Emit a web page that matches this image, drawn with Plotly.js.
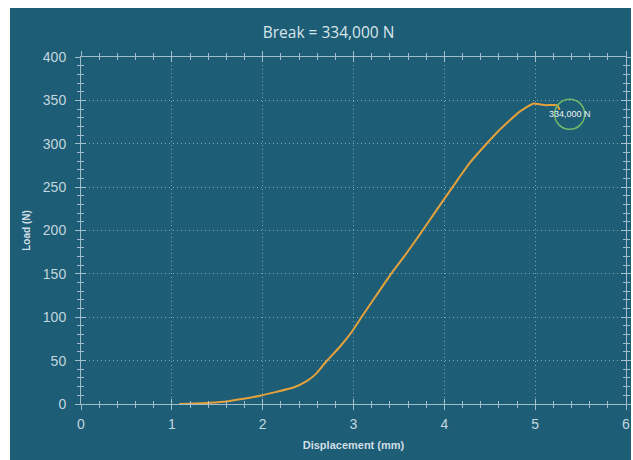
<!DOCTYPE html>
<html>
<head>
<meta charset="utf-8">
<script src="https://cdn.plot.ly/plotly-3.0.1.min.js"></script>
<style>
html,body{margin:0;padding:0;background:#ffffff;width:633px;height:460px;overflow:hidden;}
#chart{position:absolute;left:10px;top:8px;width:621px;height:452px;}
</style>
</head>
<body>
<div id="chart"></div>
<script>
// Displacement (mm) and Load (N)
const displacement = [1.08, 1.25, 1.42, 1.60, 1.79, 1.97, 2.15, 2.34, 2.48, 2.59, 2.70, 2.85, 2.98, 3.10, 3.25, 3.40, 3.55, 3.66, 3.80, 3.99, 4.15, 4.28, 4.43, 4.58, 4.70, 4.83, 4.92, 4.98, 5.05, 5.12, 5.24, 5.27];
const load = [0, 0.5, 1.5, 3, 6, 9.6, 14, 19, 26, 35, 49, 66, 83, 102, 125, 148, 169, 185, 206, 235, 259, 278, 296, 313, 325, 337, 343, 346.5, 345.5, 344.5, 344.5, 339];
// Break marker
const breakX = [5.38];
const breakY = [334];
const breakLabel = ["334,000 N"];
const titleText = "Break = 334,000 N";
const xTitle = "Displacement (mm)";
const yTitle = "Load (N)";
const xRange = [0, 6];
const yRange = [0, 400];

const bg = "#1d5d75";
const fg = "#c3d6df";
const lineC = "rgba(205,222,230,0.75)";
const gridC = "rgba(205,222,230,0.55)";

const traces = [
  {x: displacement, y: load, type: "scatter", mode: "lines",
   line: {color: "#e5a13c", width: 2, shape: "spline", smoothing: 0.5}, hoverinfo: "skip", showlegend: false},
  {x: breakX, y: breakY, type: "scatter", mode: "markers+text",
   text: breakLabel, textposition: "middle center",
   textfont: {family: "Liberation Sans, Arial, sans-serif", size: 9, color: "#eef4f7"},
   marker: {symbol: "circle-open", size: 30, color: "#72b86a", line: {color: "#72b86a", width: 1.5}},
   showlegend: false, hoverinfo: "skip"}
];

const tickFont = {family: "Liberation Sans, Arial, sans-serif", size: 14, color: fg};
const layout = {
  width: 621, height: 452,
  paper_bgcolor: bg, plot_bgcolor: bg,
  margin: {l: 71, r: 5, t: 49, b: 56},
  showlegend: false,
  title: {text: titleText, x: 0.513, xref: "container", y: 0.945, yanchor: "middle",
          font: {family: "Open Sans, Noto Sans, sans-serif", size: 15.5, color: "#d8e5eb"}},
  xaxis: {range: xRange, dtick: 1, tick0: 0, showline: true, linecolor: lineC, linewidth: 1,
          mirror: "ticks", ticks: "outside", ticklen: 5, tickcolor: lineC,
          showgrid: true, gridcolor: gridC, griddash: "1px,3px", zeroline: false,
          minor: {dtick: 0.2, ticks: "outside", ticklen: 3, tickcolor: lineC, showgrid: false},
          tickfont: tickFont, ticklabelstandoff: 2,
          title: {text: xTitle, standoff: 10,
                  font: {family: "Liberation Sans, Arial, sans-serif", size: 11, color: "#d0dfe6", weight: "bold"}}},
  xaxis2: {overlaying: "x", anchor: "y", side: "bottom", range: xRange, dtick: 1, tick0: 0,
          showline: false, mirror: "ticks", ticks: "inside", ticklen: 5, tickcolor: lineC,
          showticklabels: false, showgrid: false, zeroline: false,
          minor: {dtick: 0.2, ticks: "inside", ticklen: 3, tickcolor: lineC, showgrid: false}},
  yaxis: {range: yRange, dtick: 50, tick0: 0, showline: true, linecolor: lineC, linewidth: 1,
          mirror: "ticks", ticks: "outside", ticklen: 5, tickcolor: lineC,
          showgrid: true, gridcolor: gridC, griddash: "1px,3px", zeroline: false,
          minor: {dtick: 10, ticks: "outside", ticklen: 3, tickcolor: lineC, showgrid: false},
          tickfont: tickFont, ticklabelstandoff: 6,
          title: {text: yTitle, standoff: 10,
                  font: {family: "Liberation Sans, Arial, sans-serif", size: 10, color: "#d0dfe6", weight: "bold"}}},
  yaxis2: {overlaying: "y", anchor: "x", side: "left", range: yRange, dtick: 50, tick0: 0,
          showline: false, mirror: "ticks", ticks: "inside", ticklen: 5, tickcolor: lineC,
          showticklabels: false, showgrid: false, zeroline: false,
          minor: {dtick: 10, ticks: "inside", ticklen: 3, tickcolor: lineC, showgrid: false}}
};
// dummy trace to activate overlay axes
traces.push({x: [null], y: [null], xaxis: "x2", yaxis: "y2", type: "scatter", mode: "lines", showlegend: false, hoverinfo: "skip"});

Plotly.newPlot("chart", traces, layout, {displayModeBar: false, staticPlot: true});
</script>
</body>
</html>
